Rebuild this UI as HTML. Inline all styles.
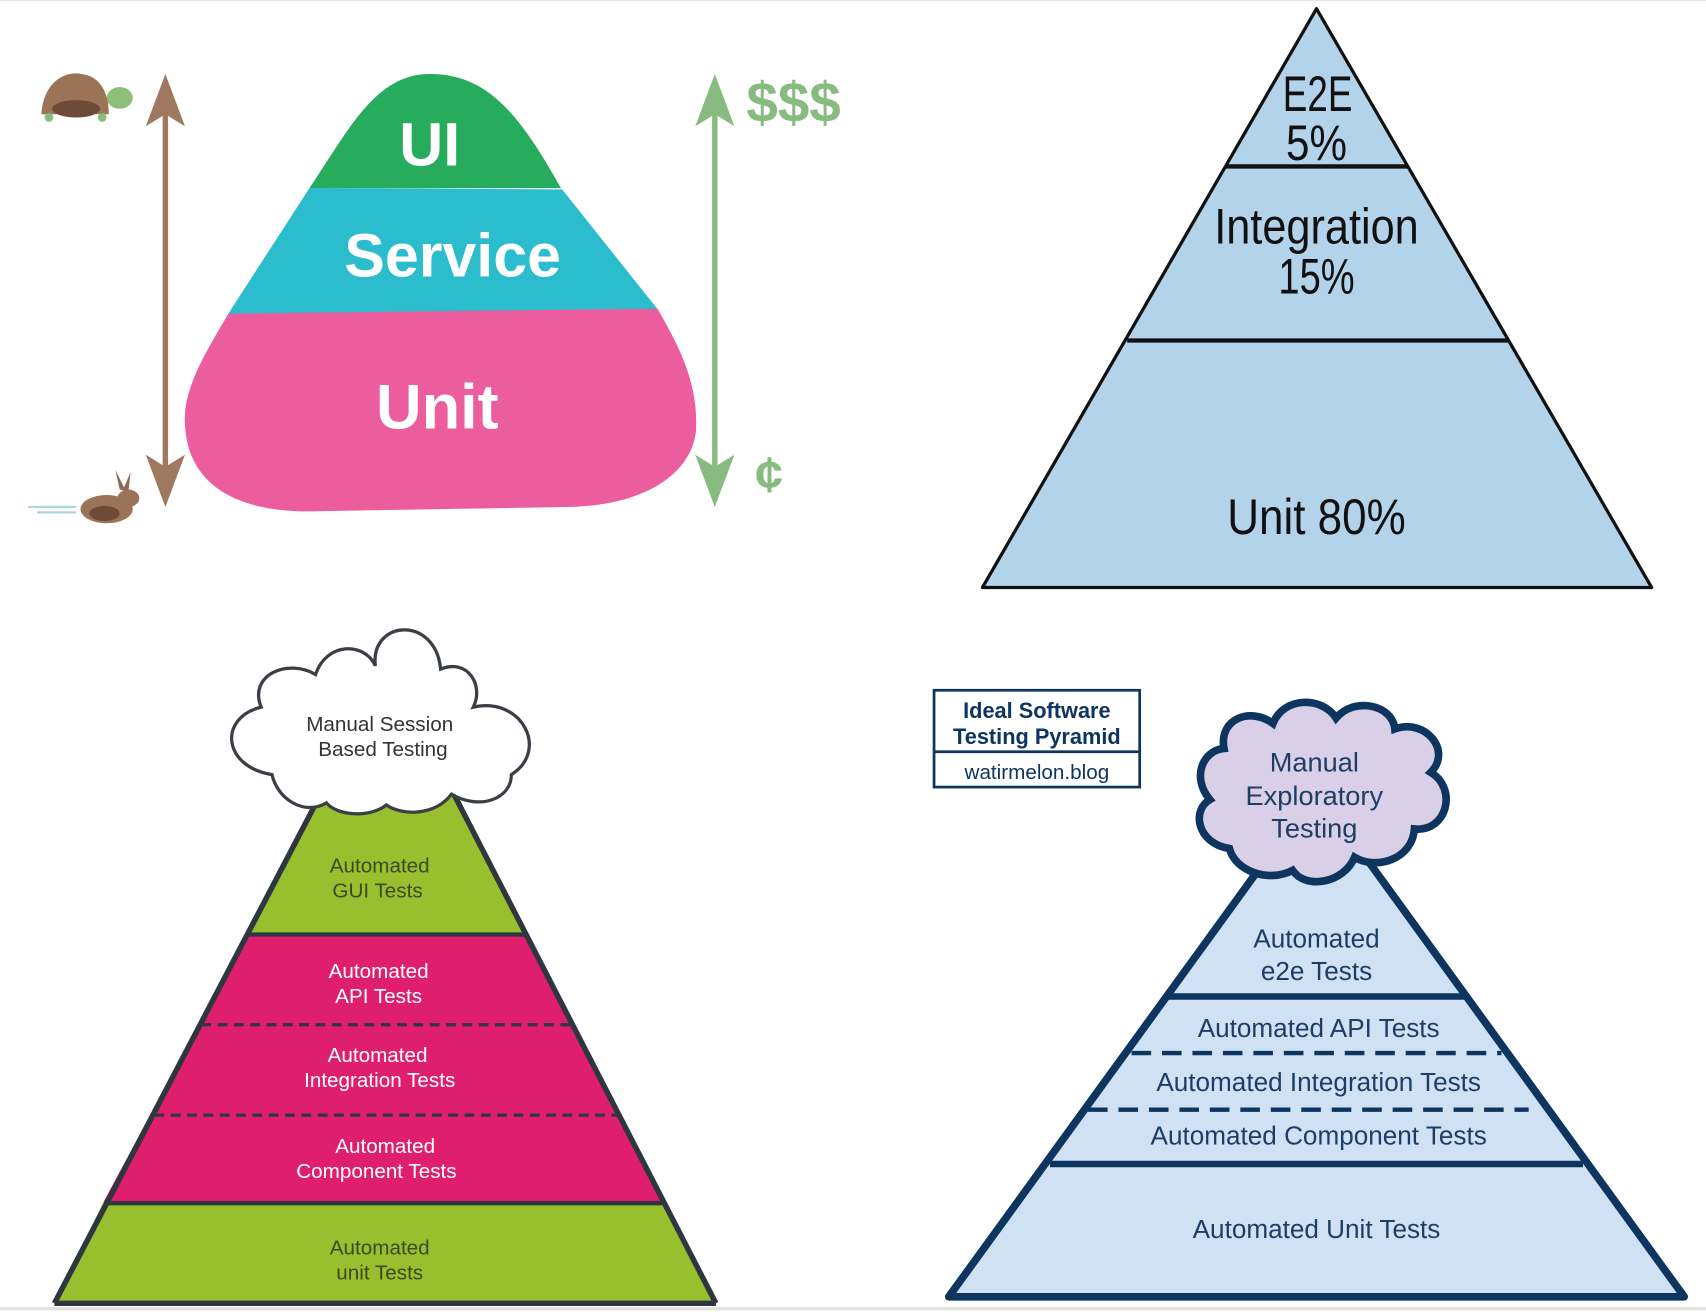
<!DOCTYPE html>
<html><head><meta charset="utf-8"><style>
html,body{margin:0;padding:0;background:#fff;width:1706px;height:1312px;overflow:hidden}
svg{display:block}
text{font-family:"Liberation Sans",sans-serif}
</style></head><body>
<svg width="1706" height="1312" viewBox="0 0 1568 1206" preserveAspectRatio="none" xmlns="http://www.w3.org/2000/svg">
<defs>
<clipPath id="blob"><path d="M395,68 C345,68 320,120 285,172 L212,285 C185,330 168,360 170,390 C172,440 210,472 290,470 L520,466 C600,465 640,430 640,390 C640,350 625,320 605,285 L515,172 C475,100 445,68 395,68 Z"/></clipPath>
</defs>
<line x1="0" y1="0.5" x2="1568" y2="0.5" stroke="#e6e6e6"/>
<line x1="0" y1="1203" x2="1568" y2="1203" stroke="#e2e2e2" stroke-width="3"/>
<!-- top-left blob -->
<g clip-path="url(#blob)">
<rect x="150" y="50" width="520" height="123" fill="#27ab5c"/>
<polygon points="150,172 670,175 670,285 150,290" fill="#2bbccd"/>
<polygon points="150,289 670,283 670,480 150,480" fill="#eb5d9d"/>
</g>
<text x="395" y="152" text-anchor="middle" font-size="56" font-weight="bold" fill="#fff">UI</text>
<text x="416" y="254" text-anchor="middle" font-size="56" font-weight="bold" fill="#fff">Service</text>
<text x="402" y="394" text-anchor="middle" font-size="58" font-weight="bold" fill="#fff">Unit</text>
<!-- arrows -->
<line x1="152" y1="100" x2="152" y2="440" stroke="#a07860" stroke-width="5"/>
<polygon points="152,68 134,116 152,105 170,116" fill="#a07860"/>
<polygon points="152,466 134,418 152,429 170,418" fill="#a07860"/>
<line x1="657" y1="100" x2="657" y2="440" stroke="#88bb80" stroke-width="5"/>
<polygon points="657,68 639,116 657,105 675,116" fill="#88bb80"/>
<polygon points="657,466 639,418 657,429 675,418" fill="#88bb80"/>
<text x="686" y="112" font-size="52" font-weight="bold" fill="#88bb80">$$$</text>
<text x="694" y="452" font-size="46" font-weight="bold" fill="#88bb80">¢</text>
<!-- turtle -->
<ellipse cx="110" cy="90" rx="12" ry="10" fill="#8cc07a"/>
<path d="M38,105 C40,75 60,65 75,68 C92,70 100,85 100,105 Z" fill="#9b7356"/>
<ellipse cx="70" cy="100" rx="22" ry="8" fill="#6e4a38"/>
<circle cx="45" cy="108" r="4" fill="#8cc07a"/><circle cx="94" cy="108" r="4" fill="#8cc07a"/>
<!-- rabbit -->
<path d="M110,450 L106,432 L114,448 L120,434 L118,452 Z" fill="#8d6a55"/>
<ellipse cx="118" cy="458" rx="10" ry="8" fill="#9b7356"/>
<ellipse cx="98" cy="468" rx="24" ry="13" fill="#9b7356"/>
<ellipse cx="96" cy="472" rx="14" ry="7" fill="#6e4a38"/>
<line x1="26" y1="466" x2="70" y2="466" stroke="#a8d6de" stroke-width="2"/>
<line x1="34" y1="471" x2="70" y2="471" stroke="#a8d6de" stroke-width="2"/>
<!-- top-right pyramid -->
<polygon points="1210,8 903,540 1518,540" fill="#b3d3ea" stroke="#111" stroke-width="3" stroke-linejoin="round"/>
<line x1="1126" y1="153" x2="1294" y2="153" stroke="#111" stroke-width="4"/>
<line x1="1036" y1="313" x2="1387" y2="313" stroke="#111" stroke-width="4"/>
<g font-family="'Liberation Sans Narrow','Liberation Sans',sans-serif" fill="#111" text-anchor="middle" font-size="46">
<text x="1211" y="102" textLength="64" lengthAdjust="spacingAndGlyphs">E2E</text>
<text x="1210" y="147" textLength="56" lengthAdjust="spacingAndGlyphs">5%</text>
<text x="1210" y="224" textLength="188" lengthAdjust="spacingAndGlyphs">Integration</text>
<text x="1210" y="270" textLength="70" lengthAdjust="spacingAndGlyphs">15%</text>
<text x="1210" y="491" textLength="164" lengthAdjust="spacingAndGlyphs">Unit 80%</text>
</g>
<!-- bottom-left pyramid -->
<polygon points="295,730 417,730 483,858 228,858" fill="#97bf2e"/>
<polygon points="228,858 483,858 612,1105 95,1105" fill="#e01e6e"/>
<polygon points="95,1105 612,1105 658,1198 50,1198" fill="#97bf2e"/>
<line x1="50" y1="1198" x2="300" y2="720" stroke="#2e3640" stroke-width="5"/>
<line x1="658" y1="1198" x2="412" y2="720" stroke="#2e3640" stroke-width="5"/>
<line x1="50" y1="1198" x2="658" y2="1198" stroke="#2e3640" stroke-width="5"/>
<line x1="228" y1="859" x2="483" y2="859" stroke="#2e3640" stroke-width="4"/>
<line x1="96" y1="1106" x2="612" y2="1106" stroke="#2e3640" stroke-width="4"/>
<line x1="185" y1="942" x2="525" y2="942" stroke="#2e3640" stroke-width="3" stroke-dasharray="9,6"/>
<line x1="142" y1="1025" x2="568" y2="1025" stroke="#2e3640" stroke-width="3" stroke-dasharray="9,6"/>
<g font-family="'DejaVu Sans',sans-serif" font-size="19" text-anchor="middle">
<g fill="#3c4a22"><text x="349" y="802">Automated</text><text x="347" y="825">GUI Tests</text>
<text x="349" y="1153">Automated</text><text x="349" y="1176">unit Tests</text></g>
<g fill="#fff"><text x="348" y="899">Automated</text><text x="348" y="922">API Tests</text>
<text x="347" y="976">Automated</text><text x="349" y="999">Integration Tests</text>
<text x="354" y="1060">Automated</text><text x="346" y="1083">Component Tests</text></g>
</g>
<!-- cloud left -->
<g fill="#fff" stroke="#3a3f45" stroke-width="3">
<path d="M250,712 C205,705 200,660 240,650 C228,620 265,605 290,620 C300,590 335,590 345,612 C340,570 400,565 405,615 C430,605 445,630 435,650 C480,640 505,690 470,712 C470,735 440,745 415,730 C400,750 370,750 355,740 C340,752 310,750 300,738 C280,750 255,735 250,712 Z"/>
</g>
<g font-family="'DejaVu Sans',sans-serif" font-size="19" fill="#333" text-anchor="middle">
<text x="349" y="672">Manual Session</text><text x="352" y="695">Based Testing</text>
</g>
<!-- bottom-right box -->
<rect x="858.5" y="634.5" width="189" height="89" fill="#fff" stroke="#0d3560" stroke-width="2.5"/>
<line x1="858" y1="691" x2="1048" y2="691" stroke="#0d3560" stroke-width="2.5"/>
<g fill="#0d3560" text-anchor="middle">
<text x="953" y="660" font-size="20" font-weight="bold">Ideal Software</text>
<text x="953" y="684" font-size="20" font-weight="bold">Testing Pyramid</text>
<text x="953" y="716" font-size="19">watirmelon.blog</text>
</g>
<!-- bottom-right pyramid -->
<polygon points="1210,726 872,1192 1548,1192" fill="#cfe1f2" stroke="#0d3560" stroke-width="7" stroke-linejoin="round"/>
<line x1="1073" y1="916" x2="1348" y2="916" stroke="#0d3560" stroke-width="6"/>
<line x1="965" y1="1070" x2="1455" y2="1070" stroke="#0d3560" stroke-width="6"/>
<line x1="1040" y1="968" x2="1380" y2="968" stroke="#0d3560" stroke-width="4" stroke-dasharray="18,10"/>
<line x1="1000" y1="1020" x2="1405" y2="1020" stroke="#0d3560" stroke-width="4" stroke-dasharray="18,10"/>
<g fill="#1e3d66" font-size="24" text-anchor="middle">
<text x="1210" y="871">Automated</text><text x="1210" y="901">e2e Tests</text>
<text x="1212" y="953">Automated API Tests</text>
<text x="1212" y="1003">Automated Integration Tests</text>
<text x="1212" y="1052">Automated Component Tests</text>
<text x="1210" y="1138">Automated Unit Tests</text>
</g>
<!-- cloud right -->
<path d="M1130,780 C1100,775 1095,745 1112,735 C1095,715 1105,690 1125,688 C1120,660 1150,650 1170,665 C1180,640 1215,640 1228,660 C1245,640 1280,648 1282,670 C1310,660 1335,690 1315,710 C1340,725 1330,765 1300,762 C1298,790 1265,800 1245,788 C1235,812 1200,818 1188,800 C1165,812 1135,800 1130,780 Z" fill="#d9d0e8" stroke="#0d3560" stroke-width="7"/>
<g fill="#1e3d66" font-size="25" text-anchor="middle">
<text x="1208" y="709">Manual</text><text x="1208" y="740">Exploratory</text><text x="1208" y="770">Testing</text>
</g>
</svg>
</body></html>
